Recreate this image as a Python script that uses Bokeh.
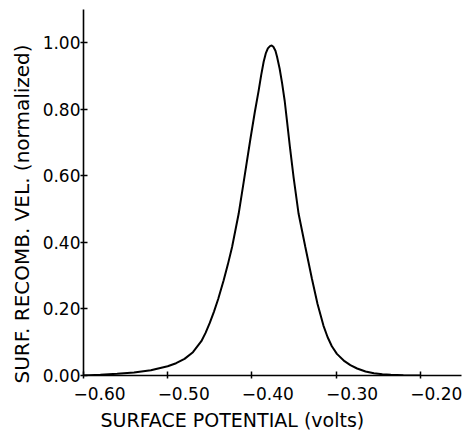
from bokeh.plotting import figure
from bokeh.models import Range1d, FixedTicker, NumeralTickFormatter, LinearAxis, CustomJSTickFormatter, Title
from bokeh.embed import file_html
from bokeh.resources import INLINE

# data
potential = [-0.600, -0.580, -0.560, -0.540, -0.520, -0.500, -0.490, -0.480, -0.470,
             -0.460, -0.455, -0.450, -0.445, -0.440, -0.4335, -0.4285, -0.4235, -0.4157,
             -0.4097, -0.4018, -0.3965, -0.3919, -0.389, -0.386, -0.3835, -0.381, -0.3785,
             -0.3765, -0.3745, -0.372, -0.3701, -0.367, -0.3642, -0.361, -0.3583, -0.3545,
             -0.3504, -0.3445, -0.3365, -0.3286, -0.322, -0.315, -0.310, -0.305, -0.299,
             -0.290, -0.283, -0.275, -0.265, -0.255, -0.245, -0.235, -0.220, -0.200]
velocity = [0.000, 0.002, 0.005, 0.009, 0.016, 0.028, 0.037, 0.050, 0.070,
            0.103, 0.128, 0.158, 0.192, 0.230, 0.286, 0.334, 0.386, 0.486,
            0.582, 0.710, 0.792, 0.857, 0.902, 0.943, 0.968, 0.983, 0.990,
            0.992, 0.988, 0.976, 0.958, 0.922, 0.880, 0.825, 0.765, 0.680,
            0.595, 0.486, 0.386, 0.290, 0.215, 0.150, 0.115, 0.088, 0.065,
            0.043, 0.031, 0.021, 0.012, 0.007, 0.004, 0.002, 0.001, 0.000]
x_ticks = [-0.60, -0.50, -0.40, -0.30, -0.20]
x_tick_labels = ["\u22120.60", "\u22120.50", "\u22120.40", "\u22120.30", "\u22120.20"]
y_ticks = [0.0, 0.2, 0.4, 0.6, 0.8, 1.0]
x_title = "SURFACE POTENTIAL (volts)"
y_title = "SURF. RECOMB. VEL. (normalized)"

FONT = "DejaVu Sans"
X0, X1 = -0.60, -0.151
SHIFT = 0.019  # tick labels sit a little right of their ticks in the reference

p = figure(width=462, height=435, output_backend="svg", toolbar_location=None,
           x_range=Range1d(X0, X1), y_range=Range1d(0.0, 1.10),
           min_border_left=83, min_border_right=1, min_border_top=9, min_border_bottom=5)
p.outline_line_color = None
p.grid.visible = False
p.background_fill_color = "white"
p.border_fill_color = "white"

p.line(potential, velocity, line_color="black", line_width=2)

def style(ax):
    ax.axis_line_color = "black"
    ax.axis_line_width = 1.6
    ax.major_tick_line_color = "black"
    ax.major_tick_line_width = 1.5
    ax.major_tick_in = 4
    ax.major_tick_out = 3
    ax.minor_tick_line_color = None
    ax.major_label_text_font = FONT
    ax.major_label_text_font_size = "17px"
    ax.major_label_text_color = "black"

style(p.xaxis[0])
style(p.yaxis[0])

# main x axis: line and ticks only
p.xaxis[0].ticker = FixedTicker(ticks=x_ticks)
p.xaxis[0].formatter = CustomJSTickFormatter(code='return "";')
p.xaxis[0].major_label_standoff = 0

# label axis on a shifted range: only the tick labels
p.extra_x_ranges = {"lab": Range1d(X0 - SHIFT, X1 - SHIFT)}
lab = LinearAxis(x_range_name="lab")
style(lab)
lab.ticker = FixedTicker(ticks=x_ticks)
lab.formatter = CustomJSTickFormatter(args=dict(tv=x_ticks, tl=x_tick_labels), code="""
    for (let i = 0; i < tv.length; i++) { if (Math.abs(tv[i] - tick) < 1e-6) return tl[i]; }
    return "";
""")
lab.axis_line_color = None
lab.major_tick_line_color = None
lab.major_tick_in = 0
lab.major_tick_out = 0
lab.major_label_standoff = 8
p.add_layout(lab, "below")

p.add_layout(Title(text=x_title, align="left", offset=17, standoff=9,
                   text_font=FONT, text_font_size="19px", text_font_style="normal",
                   text_color="black", text_line_height=0.8), "below")

p.yaxis.ticker = FixedTicker(ticks=y_ticks)
p.yaxis.formatter = NumeralTickFormatter(format="0.00")
p.yaxis.major_label_standoff = 0

p.add_layout(Title(text=y_title, align="left", offset=-8, standoff=12,
                   text_font=FONT, text_font_size="20px", text_font_style="normal",
                   text_color="black"), "left")

open("out.html", "w").write(file_html(p, INLINE))
